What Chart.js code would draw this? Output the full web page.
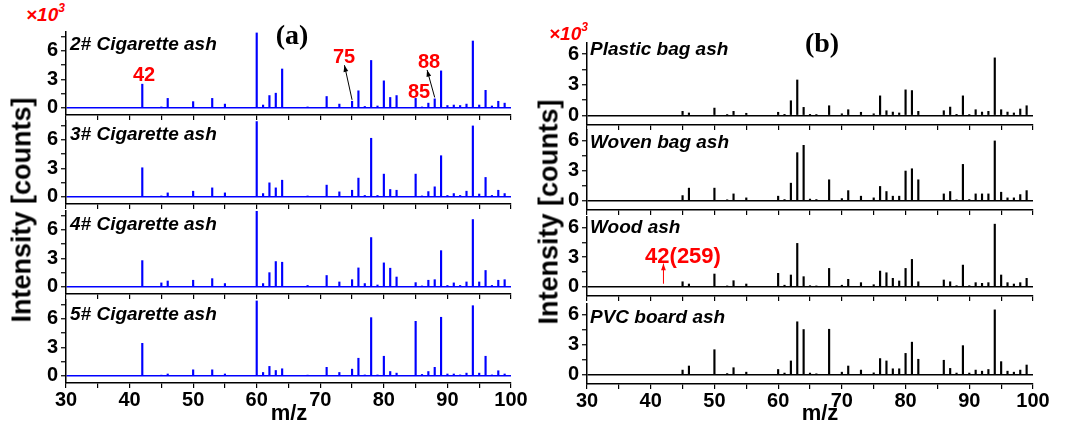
<!DOCTYPE html>
<html>
<head>
<meta charset="utf-8">
<script src="https://cdn.jsdelivr.net/npm/chart.js@4.4.1/dist/chart.umd.min.js"></script>
<style>
  body { margin: 0; background: #fff; }
  #page { position: relative; width: 1069px; height: 424px; overflow: hidden; background: #fff; font-family: "Liberation Sans", Arial, sans-serif; }
  .plot { position: absolute; }
  .t { position: absolute; white-space: nowrap; line-height: 1; font-weight: bold; }
  .c { transform: translate(-50%, -50%); }
  .name { font-style: italic; font-size: 19px; color: #000; transform: translateY(-50%); }
  .red { color: #f00; font-size: 20px; }
  .mult { color: #f00; font-style: italic; font-size: 19px; }
  .mult sup { font-size: 12px; position: relative; top: -2px; }
  .panel { font-family: "Liberation Serif", "Times New Roman", serif; font-size: 28px; }
  .ylab { font-size: 27px; transform: translate(-50%, -50%) rotate(-90deg); }
  .xlab { font-size: 22px; }
</style>
</head>
<body>
<div id="page">
  <canvas class="plot" id="c2"></canvas>
  <canvas class="plot" id="c3"></canvas>
  <canvas class="plot" id="c4"></canvas>
  <canvas class="plot" id="c5"></canvas>
  <canvas class="plot" id="bPlastic"></canvas>
  <canvas class="plot" id="bWoven"></canvas>
  <canvas class="plot" id="bWood"></canvas>
  <canvas class="plot" id="bPvc"></canvas>

  <div class="t mult" style="left:26px; top:4px;">×10<sup>3</sup></div>
  <div class="t panel c" style="left:292px; top:35px;">(a)</div>
  <div class="t name" style="left:70px; top:43px;">2# Cigarette ash</div>
  <div class="t name" style="left:70px; top:133px;">3# Cigarette ash</div>
  <div class="t name" style="left:70px; top:223px;">4# Cigarette ash</div>
  <div class="t name" style="left:70px; top:313px;">5# Cigarette ash</div>
  <div class="t red c" style="left:144px; top:74px;">42</div>
  <div class="t red c" style="left:344px; top:56px;">75</div>
  <div class="t red c" style="left:429px; top:61px;">88</div>
  <div class="t red c" style="left:419px; top:91px;">85</div>
  <div class="t ylab" style="left:22px; top:210px;">Intensity [counts]</div>
  <div class="t xlab c" style="left:289px; top:413px;">m/z</div>

  <div class="t mult" style="left:549px; top:23px;">×10<sup>3</sup></div>
  <div class="t panel c" style="left:822px; top:43px;">(b)</div>
  <div class="t name" style="left:590px; top:48px;">Plastic bag ash</div>
  <div class="t name" style="left:590px; top:141px;">Woven bag ash</div>
  <div class="t name" style="left:590px; top:226px;">Wood ash</div>
  <div class="t name" style="left:590px; top:316px;">PVC board ash</div>
  <div class="t red c" style="left:683px; top:256px; font-size:22px;">42(259)</div>
  <div class="t ylab" style="left:549px; top:212px;">Intensity [counts]</div>
  <div class="t xlab c" style="left:820px; top:413px;">m/z</div>
</div>
<script>
// m/z des pics, panneau (a)
var mzA = [42, 45, 46, 50, 53, 55, 60, 61, 62, 63, 64, 68, 71, 73, 75, 76, 77, 78, 79,
           80, 81, 82, 85, 86, 87, 88, 89, 90, 91, 92, 93, 94, 95, 96, 97, 98, 99];
// intensités (x10^3)
var cig2 = [2.5, 0.1, 1.0, 0.66, 1.0, 0.4, 7.9, 0.3, 1.3, 1.55, 4.1, 0.1, 1.2, 0.4, 0.7, 1.8, 0.15, 5.0, 0.2,
            2.85, 1.1, 1.3, 1.0, 0.1, 0.5, 0.95, 3.9, 0.25, 0.3, 0.25, 0.4, 7.05, 0.3, 1.85, 0.2, 0.7, 0.5];
var cig3 = [3.07, 0.1, 0.42, 0.6, 0.95, 0.42, 7.94, 0.35, 1.48, 0.95, 1.76, 0.1, 1.24, 0.53, 0.7, 1.98, 0.15, 6.18, 0.15,
            2.4, 0.78, 0.7, 2.4, 0.1, 0.56, 1.06, 4.34, 0.15, 0.35, 0.15, 0.6, 7.48, 0.3, 2.05, 0.15, 0.7, 0.35];
var cig4 = [2.77, 0.42, 0.62, 0.7, 0.87, 0.35, 7.98, 0.35, 1.5, 2.67, 2.6, 0.15, 1.2, 0.52, 0.76, 2.0, 0.35, 5.2, 0.2,
            2.53, 1.97, 1.04, 0.45, 0.1, 0.7, 0.76, 3.82, 0.15, 0.42, 0.15, 0.52, 7.1, 0.52, 1.73, 0.15, 0.7, 0.76];
var cig5 = [3.43, 0.05, 0.2, 0.64, 0.64, 0.2, 7.9, 0.36, 1.0, 0.57, 0.75, 0.05, 0.9, 0.36, 0.71, 1.86, 0.1, 6.14, 0.1,
            2.07, 0.46, 0.29, 5.75, 0.15, 0.46, 0.9, 6.18, 0.2, 0.2, 0.1, 0.29, 7.4, 0.29, 2.07, 0.1, 0.54, 0.2];

// m/z des pics, panneau (b)
var mzB = [45, 46, 50, 52, 53, 55, 60, 61, 62, 63, 64, 65, 66, 68, 70, 71, 73, 75, 76, 77,
           78, 79, 80, 81, 82, 86, 87, 88, 89, 90, 91, 92, 93, 94, 95, 96, 97, 98, 99];
var plastic = [0.39, 0.23, 0.71, 0.05, 0.39, 0.2, 0.3, 0.1, 1.43, 3.47, 0.78, 0.1, 0.05, 0.94, 0.15, 0.55, 0.3, 0.15, 1.91, 0.45,
               0.32, 0.23, 2.5, 2.43, 0.39, 0.45, 0.81, 0.1, 1.91, 0.05, 0.55, 0.32, 0.39, 5.64, 0.55, 0.32, 0.23, 0.62, 0.94];
var woven = [0.5, 1.25, 1.25, 0.05, 0.67, 0.27, 0.44, 0.1, 1.75, 4.82, 5.56, 0.15, 0.1, 2.09, 0.2, 1.0, 0.44, 0.27, 1.42, 0.91,
             0.44, 0.44, 2.97, 3.2, 2.09, 0.67, 0.91, 0.05, 3.64, 0.1, 0.67, 0.67, 0.67, 6.0, 0.84, 0.27, 0.27, 0.6, 1.0];
var wood = [0.5, 0.27, 1.29, 0.05, 0.61, 0.27, 1.36, 0.15, 1.19, 4.41, 1.02, 0.1, 0.05, 1.86, 0.15, 0.75, 0.41, 0.2, 1.59, 1.42,
            0.85, 0.58, 1.86, 2.78, 0.5, 0.68, 0.5, 0.1, 2.2, 0.1, 0.41, 0.34, 0.41, 6.37, 1.19, 0.41, 0.27, 0.41, 0.85];
var pvc = [0.45, 0.86, 2.5, 0.1, 0.69, 0.24, 0.51, 0.15, 1.37, 5.31, 4.53, 0.15, 0.05, 4.56, 0.24, 0.86, 0.45, 0.17, 1.61, 1.37,
           0.58, 0.58, 2.13, 3.26, 1.54, 1.44, 0.62, 0.15, 2.91, 0.15, 0.45, 0.34, 0.51, 6.51, 1.3, 0.34, 0.24, 0.45, 0.96];

var mzRange = [30, 100];
var rangeA = [-0.75, 8];
var rangeB = [-0.95, 7.1];

var BLUE = '#0000ff', BLACK = '#000000';
var tickFont = { family: 'Liberation Sans, Arial, sans-serif', size: 20, weight: 'bold' };

/**
 * Plugin qui dessine des flèches en coordonnées de données
 * @param {array} items
 */
function arrows(items) {
    return {
        id: 'arrows',
        afterDatasetsDraw: function(chart) {
            var ctx = chart.ctx, xs = chart.scales.x, ys = chart.scales.y;
            items.forEach(function(a) {
                var x0 = xs.getPixelForValue(a.from[0]), y0 = ys.getPixelForValue(a.from[1]);
                var x1 = xs.getPixelForValue(a.to[0]), y1 = ys.getPixelForValue(a.to[1]);
                var ang = Math.atan2(y1 - y0, x1 - x0), hl = 7;
                ctx.save();
                ctx.strokeStyle = a.color;
                ctx.fillStyle = a.color;
                ctx.lineWidth = 1;
                ctx.beginPath();
                ctx.moveTo(x0, y0);
                ctx.lineTo(x1, y1);
                ctx.stroke();
                ctx.beginPath();
                ctx.moveTo(x1, y1);
                ctx.lineTo(x1 - hl * Math.cos(ang - 0.35), y1 - hl * Math.sin(ang - 0.35));
                ctx.lineTo(x1 - hl * Math.cos(ang + 0.35), y1 - hl * Math.sin(ang + 0.35));
                ctx.closePath();
                ctx.fill();
                ctx.restore();
            });
        }
    };
}

/**
 * Crée un sous-graphique (un spectre)
 */
function spectrum(id, mz, vals, color, range, box, showX, extra) {
    var xh = showX ? 28 : 6;
    var canvas = document.getElementById(id);
    canvas.style.left = box.left + 'px';
    canvas.style.top = (box.top - 2) + 'px';
    canvas.width = box.width;
    canvas.height = (box.bottom - box.top) + 2 + xh;
    canvas.style.width = canvas.width + 'px';
    canvas.style.height = canvas.height + 'px';

    return new Chart(canvas, {
        type: 'bar',
        data: {
            datasets: [{
                data: mz.map(function(m, i) { return { x: m, y: vals[i] }; }),
                backgroundColor: color,
                borderWidth: 0,
                barThickness: 1.5
            }]
        },
        options: {
            responsive: false,
            animation: false,
            devicePixelRatio: 1,
            layout: { padding: { top: 2, right: box.padRight, left: 0, bottom: 0 } },
            plugins: { legend: { display: false }, tooltip: { enabled: false } },
            scales: {
                x: {
                    type: 'linear',
                    min: mzRange[0],
                    max: mzRange[1],
                    offset: false,
                    border: { color: '#000', width: 1.5 },
                    grid: { offset: false, drawOnChartArea: false, drawTicks: true, tickLength: 5, color: '#000', lineWidth: 1.2 },
                    ticks: {
                        stepSize: 5,
                        autoSkip: false,
                        maxRotation: 0,
                        display: showX,
                        padding: 0,
                        color: '#000',
                        font: tickFont,
                        callback: function(v) { return v % 10 === 0 ? v : ''; }
                    },
                    afterFit: function(s) { s.height = xh; s.paddingLeft = 0; s.paddingRight = 0; }
                },
                y: {
                    min: range[0],
                    max: range[1],
                    border: { color: '#000', width: 1.5 },
                    grid: {
                        drawTicks: true,
                        tickLength: 5,
                        tickColor: '#000',
                        tickWidth: 1.2,
                        lineWidth: 1.5,
                        color: function(c) { return c.tick && c.tick.value === 0 ? color : 'rgba(0,0,0,0)'; }
                    },
                    ticks: {
                        stepSize: 1.5,
                        includeBounds: false,
                        autoSkip: false,
                        padding: 3,
                        color: '#000',
                        font: tickFont,
                        callback: function(v) { return v % 3 === 0 ? v : ''; }
                    },
                    afterFit: function(s) { s.width = box.yw; s.paddingTop = 0; s.paddingBottom = 0; }
                }
            }
        },
        plugins: extra ? [arrows(extra)] : []
    });
}

// positions des sous-graphiques
var topsA = [32, 121, 211, 300], botsA = [115, 204, 294, 383];
var topsB = [43, 130, 217, 304], botsB = [125, 210, 296, 384];

function boxA(i) { return { left: 0, width: 530, yw: 66, padRight: 19, top: topsA[i], bottom: botsA[i] }; }
function boxB(i) { return { left: 530, width: 539, yw: 57, padRight: 36, top: topsB[i], bottom: botsB[i] }; }

spectrum('c2', mzA, cig2, BLUE, rangeA, boxA(0), false, [
    { from: [75, 0.85], to: [73.8, 4.5], color: '#000' },
    { from: [88, 1.1], to: [86.8, 4.0], color: '#000' }
]);
spectrum('c3', mzA, cig3, BLUE, rangeA, boxA(1), false);
spectrum('c4', mzA, cig4, BLUE, rangeA, boxA(2), false);
spectrum('c5', mzA, cig5, BLUE, rangeA, boxA(3), true);

spectrum('bPlastic', mzB, plastic, BLACK, rangeB, boxB(0), false);
spectrum('bWoven', mzB, woven, BLACK, rangeB, boxB(1), false);
spectrum('bWood', mzB, wood, BLACK, rangeB, boxB(2), false, [
    { from: [42, 0.3], to: [42, 2.35], color: '#f00' }
]);
spectrum('bPvc', mzB, pvc, BLACK, rangeB, boxB(3), true);
</script>
</body>
</html>
